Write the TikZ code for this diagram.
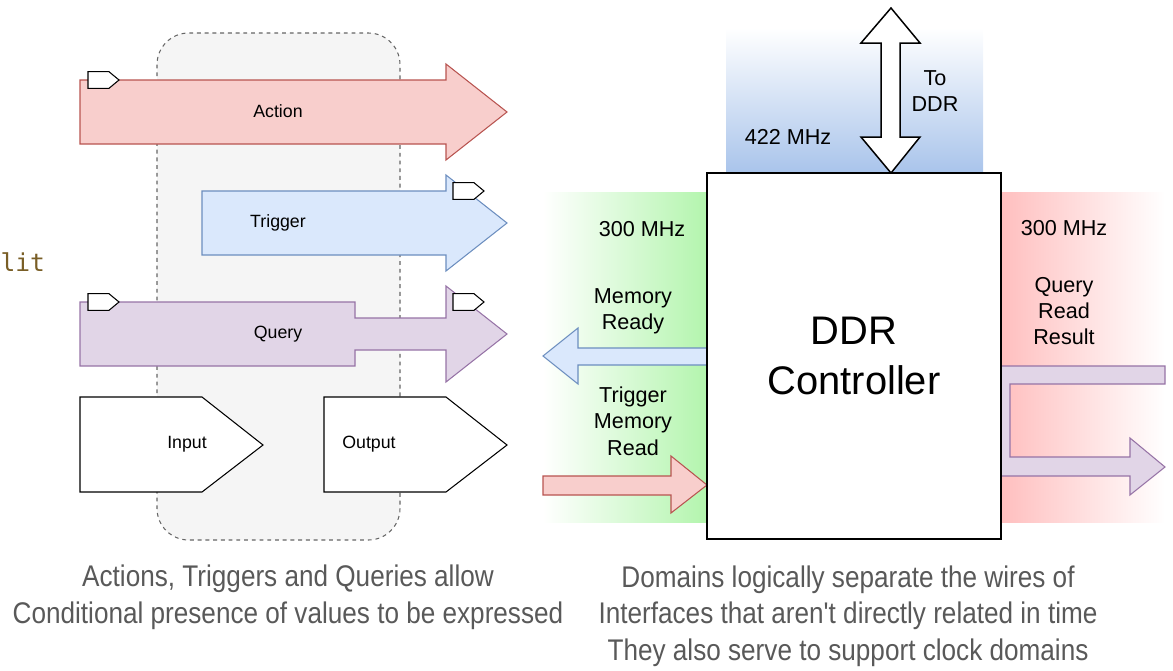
\documentclass[tikz,border=0pt]{standalone}
\usepackage{fontspec}
\setsansfont{Liberation Sans}
\newfontfamily\capfont[FakeStretch=0.875]{Liberation Sans}
\newfontfamily\codefont{DejaVu Sans Mono}
\usepackage{xcolor}
\usetikzlibrary{calc}
\usetikzlibrary{positioning}

\definecolor{actfill}{HTML}{F8CECC}
\definecolor{actline}{HTML}{B85450}
\definecolor{trigfill}{HTML}{DAE8FC}
\definecolor{trigline}{HTML}{6C8EBF}
\definecolor{qryfill}{HTML}{E1D5E7}
\definecolor{qryline}{HTML}{9673A6}
\definecolor{domgray}{HTML}{F5F5F5}
\definecolor{dashgray}{HTML}{666666}
\definecolor{capgray}{HTML}{595959}
\definecolor{codebrown}{HTML}{795E26}
\definecolor{fastblue}{HTML}{A9C4EB}
\definecolor{slowgreen}{HTML}{B3F5AD}
\definecolor{slowred}{HTML}{FFBFBF}

\begin{document}
\begin{tikzpicture}[x=0.02cm, y=-0.02cm, line width=0.6pt, font=\sffamily]
			\tikzstyle{lbl}=[font=\sffamily\fontsize{10.1}{14.8}\selectfont, align=center, inner sep=0pt]
			\tikzstyle{domlbl}=[font=\sffamily\fontsize{12.3}{15}\selectfont, align=center, inner sep=0pt]
			\tikzstyle{big}=[font=\sffamily\fontsize{22.7}{28.4}\selectfont, align=center, inner sep=0pt]
			\tikzstyle{captext}=[font=\capfont\fontsize{17}{20.9}\selectfont, text=capgray, align=center, inner sep=0pt]
			\tikzstyle{act}=[fill=actfill, draw=actline]
			\tikzstyle{trig}=[fill=trigfill, draw=trigline]
			\tikzstyle{qry}=[fill=qryfill, draw=qryline]
			\tikzstyle{port}=[fill=white, draw=black]
			
			\useasboundingbox (0,0) rectangle (1173,670);
			
			% clock domain backgrounds
			\shade[top color=white, bottom color=fastblue] (726,28) rectangle (983,173);
			\shade[left color=white, right color=slowgreen] (543,192) rectangle (707,522);
			\shade[left color=slowred, right color=white] (1001,192) rectangle (1165,522);
			
			% conditional presence
			\draw[fill=domgray, draw=dashgray, dash pattern=on 2.2pt off 2.2pt, rounded corners=18pt] (157,33) rectangle (400,540);
			
			\draw[act] (80,80) -- (446,80) -- (446,64) -- (507,112) -- (446,160) -- (446,144) -- (80,144) -- cycle;
			\draw[trig] (202,191) -- (446,191) -- (446,175) -- (507,223) -- (446,271) -- (446,255) -- (202,255) -- cycle;
			\draw[qry] (80,302) -- (355,302) -- (355,318) -- (446,318) -- (446,286) -- (507,334) -- (446,382) -- (446,350) -- (355,350) -- (355,366) -- (80,366) -- cycle;
			\draw[port] (80,397) -- (202,397) -- (263,445) -- (202,492) -- (80,492) -- cycle;
			\draw[port] (324,397) -- (446,397) -- (507,445) -- (446,492) -- (324,492) -- cycle;
			\foreach \tx/\ty in {88/80, 453/191, 88/302, 453/302}
				\draw[port] (\tx,\ty-8.3) -- ++(21,0) -- ++(10,8.3) -- ++(-10,8.3) -- ++(-21,0) -- cycle;
			
			\node[lbl] (action) at (278,111) {Action};
			\node[lbl] (trigger) at (278,223) {Trigger};
			\node[lbl] (query) at (278,334) {Query};
			\node[lbl] (input) at (187,444) {Input};
			\node[lbl] (output) at (369,444) {Output};
			
			\node[font=\codefont\fontsize{14}{16}\selectfont, text=codebrown, anchor=west, inner sep=0pt] (lit) at (0,262) {lit};
			
			% interfaces of the controller
			\draw[trig] (707,348) -- (578,348) -- (578,328) -- (543,356) -- (578,384) -- (578,365) -- (707,365) -- cycle;
			\draw[act] (543,476) -- (671,476) -- (671,456) -- (707,485) -- (671,513) -- (671,495) -- (543,495) -- cycle;
			\draw[qry] (1001,366) -- (1165,366) -- (1165,384) -- (1010,384) -- (1010,457) -- (1130,457) -- (1130,438) -- (1165,467) -- (1130,495) -- (1130,476) -- (1001,476) -- cycle;
			\draw[port, line width=0.85pt] (891,8) -- (920,43) -- (900,43) -- (900,137) -- (920,137) -- (891,173) -- (861,137) -- (881,137) -- (881,43) -- (861,43) -- cycle;
			
			\node[draw=black, fill=white, line width=0.8pt, minimum width=5.88cm, minimum height=7.32cm, big] (ddr) at (854,356) {DDR\\Controller};
			
			\node[domlbl] (todr) at (935,91) {To\\DDR};
			\node[domlbl] (fastclk) at (788,137) {422 MHz};
			\node[domlbl] (leftclk) at (642,229) {300 MHz};
			\node[domlbl] (rightclk) at (1064,228) {300 MHz};
			\node[domlbl] (ready) at (633,311) {Memory\\Ready};
			\node[domlbl] (trigread) at (633,421) {Trigger\\Memory\\Read};
			\node[domlbl] (result) at (1064,311) {Query\\Read\\Result};
			
			\node[captext] (capleft) at (288,597) {Actions, Triggers and Queries allow\\Conditional presence of values to be expressed};
			\node[captext] (capright) at (848,616) {Domains logically separate the wires of\\Interfaces that aren't directly related in time\\They also serve to support clock domains};
		\end{tikzpicture}
\end{document}
